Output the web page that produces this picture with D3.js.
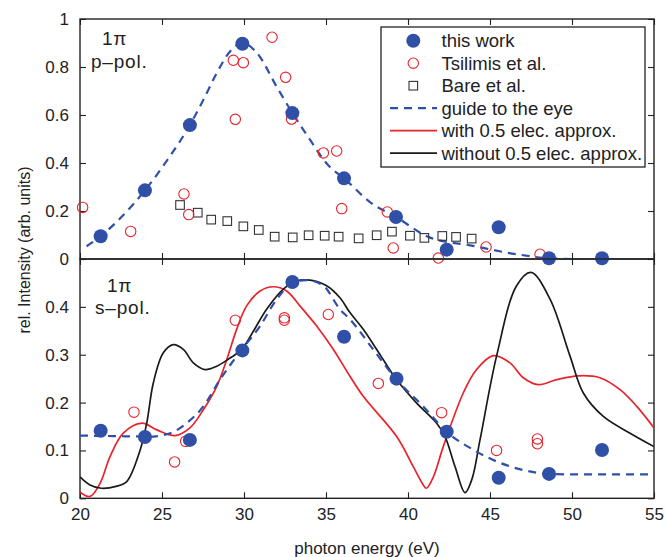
<!DOCTYPE html>
<html>
<head>
<meta charset="utf-8">
<script src="https://cdn.jsdelivr.net/npm/d3@7"></script>
<style>
  html, body { margin: 0; padding: 0; background: #fff; }
  svg { display: block; font-family: "Liberation Sans", Arial, Helvetica, sans-serif; }
</style>
</head>
<body>
<svg id="chart" width="666" height="557"></svg>
<script>
// ---------- DATA ----------
const xTicks = [20, 25, 30, 35, 40, 45, 50, 55];
const topYTicks = [0, 0.2, 0.4, 0.6, 0.8, 1];
const botYTicks = [0, 0.1, 0.2, 0.3, 0.4];

// p-pol (top panel)
const pThisWork = [[21.26,0.095],[23.96,0.286],[26.7,0.558],[29.9,0.897],[32.95,0.608],[36.1,0.336],[39.27,0.175],[42.36,0.039],[45.53,0.132],[48.6,0.003],[51.83,0.003]];
const pTsilimis = [[20.16,0.215],[23.09,0.115],[26.34,0.271],[26.63,0.185],[29.47,0.582],[29.35,0.828],[29.96,0.818],[31.71,0.924],[32.54,0.757],[32.9,0.583],[34.84,0.442],[35.65,0.45],[35.96,0.21],[38.74,0.196],[39.1,0.046],[41.85,0.004],[44.76,0.05],[48.05,0.02]];
const pBare = [[26.1,0.225],[27.18,0.193],[28.0,0.164],[28.98,0.158],[29.96,0.136],[30.9,0.121],[31.87,0.093],[32.97,0.09],[33.94,0.099],[34.92,0.097],[35.77,0.093],[36.99,0.086],[38.09,0.099],[39.02,0.114],[40.12,0.097],[41.0,0.088],[42.09,0.096],[42.93,0.092],[43.88,0.085]];
const pGuide = [[20.4,0.053],[21.26,0.095],[22.6,0.18],[23.96,0.286],[25.3,0.41],[26.7,0.558],[27.5,0.66],[28.3,0.77],[29.15,0.865],[29.9,0.9],[30.77,0.86],[32.0,0.717],[32.95,0.608],[33.8,0.52],[35.24,0.383],[36.1,0.336],[37.68,0.237],[39.27,0.175],[41.34,0.089],[43.78,0.057],[46.6,0.02],[48.6,0.003],[50,0],[55,0]];

// s-pol (bottom panel)
const sThisWork = [[21.26,0.141],[23.96,0.128],[26.7,0.122],[29.9,0.309],[32.95,0.452],[36.1,0.3375],[39.3,0.25],[42.36,0.139],[45.53,0.043],[48.6,0.051],[51.83,0.101]];
const sTsilimis = [[23.29,0.180],[25.77,0.076],[26.44,0.119],[29.47,0.372],[32.46,0.377],[32.46,0.372],[35.14,0.384],[38.19,0.24],[42.05,0.179],[45.4,0.1],[47.89,0.124],[47.89,0.114]];
const sGuide = [[20,0.131],[22,0.13],[24.27,0.129],[25.5,0.136],[26.5,0.157],[27.52,0.192],[28.54,0.248],[29.55,0.297],[30.98,0.36],[32.0,0.416],[33.0,0.451],[33.8,0.456],[34.84,0.444],[35.85,0.395],[36.46,0.374],[37.88,0.311],[39.3,0.248],[40.93,0.192],[42.36,0.139],[44,0.101],[45.4,0.077],[47.03,0.059],[48.6,0.051],[50,0.05],[55,0.05]];
const sWith = [[20,0.013],[20.61,0.004],[21.22,0.031],[21.83,0.087],[22.64,0.136],[23.78,0.157],[24.68,0.143],[25.8,0.131],[26.7,0.147],[27.52,0.185],[28.34,0.234],[28.95,0.29],[29.55,0.353],[30.16,0.402],[30.98,0.433],[31.79,0.442],[32.6,0.433],[33.41,0.402],[34.43,0.36],[35.45,0.311],[36.46,0.255],[37.27,0.213],[39.31,0.129],[40.32,0.066],[40.93,0.028],[41.12,0.021],[41.55,0.045],[42.15,0.108],[43.37,0.22],[44.18,0.269],[45.2,0.298],[46.22,0.283],[47.03,0.252],[47.95,0.2375],[49.07,0.248],[50.38,0.256],[51.7,0.252],[52.93,0.227],[53.95,0.192],[55,0.147]];
const sWithout = [[20,0.045],[20.61,0.028],[21.3,0.021],[22.2,0.025],[22.85,0.035],[23.66,0.1],[24.07,0.157],[24.47,0.241],[25.08,0.304],[25.69,0.321],[26.3,0.311],[26.91,0.283],[27.62,0.269],[28.34,0.276],[29.15,0.293],[29.86,0.311],[30.57,0.349],[31.38,0.395],[32.4,0.437],[33.2,0.454],[34.02,0.456],[35.04,0.444],[35.85,0.419],[36.46,0.388],[37.27,0.353],[38.3,0.3],[39.3,0.248],[40.5,0.2],[41.75,0.157],[42.26,0.129],[42.87,0.066],[43.48,0.012],[43.9,0.04],[44.39,0.122],[45.4,0.297],[46.62,0.444],[47.5,0.472],[48.66,0.416],[49.88,0.297],[50.69,0.22],[51.91,0.171],[53.54,0.136],[55,0.108]];

const legendLabels = ["this work","Tsilimis et al.","Bare et al.","guide to the eye","with 0.5 elec. approx.","without 0.5 elec. approx."];

// ---------- STYLE ----------
const BLUE = "#3050a8", RED = "#e8232b", BLACK = "#1a1a1a", AXIS = "#222";
const svg = d3.select("#chart");
const x = d3.scaleLinear().domain([20,55]).range([80,654]);
const yTop = d3.scaleLinear().domain([0,1]).range([259,19]);
const yBot = d3.scaleLinear().domain([0,0.5]).range([498.3,259]);

svg.append("defs").selectAll("clipPath").data([["cTop",yTop],["cBot",yBot]]).join("clipPath")
  .attr("id", d => d[0]).append("rect")
  .attr("x", 80).attr("width", 574)
  .attr("y", d => d[1].range()[1]).attr("height", d => d[1].range()[0]-d[1].range()[1]);

function panel(y, yTicks, clipId, fmtLabels) {
  const g = svg.append("g");
  const [y0, y1] = y.range();
  const style = s => { s.select(".domain").remove(); s.selectAll("line").attr("stroke", AXIS).attr("stroke-width",1.1); };
  g.append("g").attr("transform", `translate(0,${y0})`)
    .call(d3.axisTop(x).tickValues(xTicks).tickSize(6).tickFormat("")).call(style);
  g.append("g").attr("transform", `translate(0,${y1})`)
    .call(d3.axisBottom(x).tickValues(xTicks).tickSize(6).tickFormat("")).call(style);
  g.append("g").attr("transform", `translate(80,0)`)
    .call(d3.axisRight(y).tickValues(yTicks).tickSize(6).tickFormat("")).call(style);
  g.append("g").attr("transform", `translate(654,0)`)
    .call(d3.axisLeft(y).tickValues(yTicks).tickSize(6).tickFormat("")).call(style);
  g.append("g").attr("transform", `translate(80,0)`)
    .call(d3.axisLeft(y).tickValues(fmtLabels).tickSize(0).tickPadding(11).tickFormat(d => d3.format("~g")(d)))
    .call(s => { s.select(".domain").remove(); s.selectAll("text").attr("font-size", 17).attr("fill", "#222").attr("font-family", "Liberation Sans, Arial, sans-serif"); });
  g.append("rect").attr("x", 80).attr("y", y1).attr("width", 574).attr("height", y0 - y1)
    .attr("fill", "none").attr("stroke", AXIS).attr("stroke-width", 1.4);
  return svg.append("g").attr("clip-path", `url(#${clipId})`);
}

const lineGen = y => d3.line().x(d => x(d[0])).y(d => y(d[1])).curve(d3.curveMonotoneX);

// ----- top panel -----
const pt = panel(yTop, topYTicks, "cTop", topYTicks);
pt.append("path").datum(pGuide).attr("d", lineGen(yTop)).attr("fill","none")
  .attr("stroke", BLUE).attr("stroke-width", 2.2).attr("stroke-dasharray", "8,6");
svg.append("g").selectAll("rect").data(pBare).join("rect")
  .attr("x", d => x(d[0]) - 4.3).attr("y", d => yTop(d[1]) - 4.3).attr("width", 8.6).attr("height", 8.6)
  .attr("fill", "none").attr("stroke", "#333").attr("stroke-width", 1.1);
svg.append("g").selectAll("circle").data(pTsilimis).join("circle")
  .attr("cx", d => x(d[0])).attr("cy", d => yTop(d[1])).attr("r", 5.2)
  .attr("fill", "none").attr("stroke", RED).attr("stroke-width", 1.1);
svg.append("g").selectAll("circle").data(pThisWork).join("circle")
  .attr("cx", d => x(d[0])).attr("cy", d => yTop(d[1])).attr("r", 7)
  .attr("fill", BLUE);

// ----- bottom panel -----
const pb = panel(yBot, botYTicks, "cBot", botYTicks);
pb.append("path").datum(sWith).attr("d", lineGen(yBot).curve(d3.curveCatmullRom)).attr("fill","none")
  .attr("stroke", RED).attr("stroke-width", 1.7);
pb.append("path").datum(sWithout).attr("d", lineGen(yBot).curve(d3.curveCatmullRom)).attr("fill","none")
  .attr("stroke", BLACK).attr("stroke-width", 1.7);
pb.append("path").datum(sGuide).attr("d", lineGen(yBot)).attr("fill","none")
  .attr("stroke", BLUE).attr("stroke-width", 2.2).attr("stroke-dasharray", "8,6");
svg.append("g").selectAll("circle").data(sTsilimis).join("circle")
  .attr("cx", d => x(d[0])).attr("cy", d => yBot(d[1])).attr("r", 5.2)
  .attr("fill", "none").attr("stroke", RED).attr("stroke-width", 1.1);
svg.append("g").selectAll("circle").data(sThisWork).join("circle")
  .attr("cx", d => x(d[0])).attr("cy", d => yBot(d[1])).attr("r", 7)
  .attr("fill", BLUE);

// x tick labels
svg.append("g").attr("transform", "translate(0,498.3)")
  .call(d3.axisBottom(x).tickValues(xTicks).tickSize(0).tickPadding(10))
  .call(s => { s.select(".domain").remove(); s.selectAll("text").attr("font-size", 17).attr("fill", "#222").attr("font-family", "Liberation Sans, Arial, sans-serif"); });

// axis titles
svg.append("text").attr("x", x(37.5)).attr("y", 554).attr("text-anchor", "middle")
  .attr("font-size", 17).attr("fill", "#222").text("photon energy (eV)");
svg.append("text").attr("transform", "translate(30,250) rotate(-90)").attr("text-anchor", "middle")
  .attr("font-size", 16).attr("fill", "#222").text("rel. Intensity (arb. units)");

// panel labels
const lab = (xx, yy, t) => svg.append("text").attr("x", xx).attr("y", yy).attr("font-size", 19)
  .attr("letter-spacing", 0.8).attr("fill", "#222").text(t);
lab(102, 45, "1π"); lab(91, 68, "p\u2013pol.");
lab(107, 292, "1π"); lab(95, 314, "s\u2013pol.");

// legend
const lg = svg.append("g");
lg.append("rect").attr("x", 381).attr("y", 27).attr("width", 264).attr("height", 140)
  .attr("fill", "#fff").attr("stroke", "#222").attr("stroke-width", 1.3);
const rowY = i => 40.7 + i * 22.5;
lg.selectAll("text").data(legendLabels).join("text")
  .attr("x", 441.5).attr("y", (d, i) => rowY(i) + 6.3).attr("font-size", 18.5).attr("fill", "#222").text(d => d);
lg.append("circle").attr("cx", 413.3).attr("cy", rowY(0)).attr("r", 7).attr("fill", BLUE);
lg.append("circle").attr("cx", 413.3).attr("cy", rowY(1)).attr("r", 5.2).attr("fill", "none").attr("stroke", RED).attr("stroke-width", 1.1);
lg.append("rect").attr("x", 413.3 - 4.3).attr("y", rowY(2) - 4.3).attr("width", 8.6).attr("height", 8.6).attr("fill", "none").attr("stroke", "#333").attr("stroke-width", 1.1);
lg.append("line").attr("x1", 390).attr("x2", 437).attr("y1", rowY(3)).attr("y2", rowY(3)).attr("stroke", BLUE).attr("stroke-width", 2.2).attr("stroke-dasharray", "8,6");
lg.append("line").attr("x1", 390).attr("x2", 437).attr("y1", rowY(4)).attr("y2", rowY(4)).attr("stroke", RED).attr("stroke-width", 1.7);
lg.append("line").attr("x1", 390).attr("x2", 437).attr("y1", rowY(5)).attr("y2", rowY(5)).attr("stroke", BLACK).attr("stroke-width", 1.7);
</script>
</body>
</html>
